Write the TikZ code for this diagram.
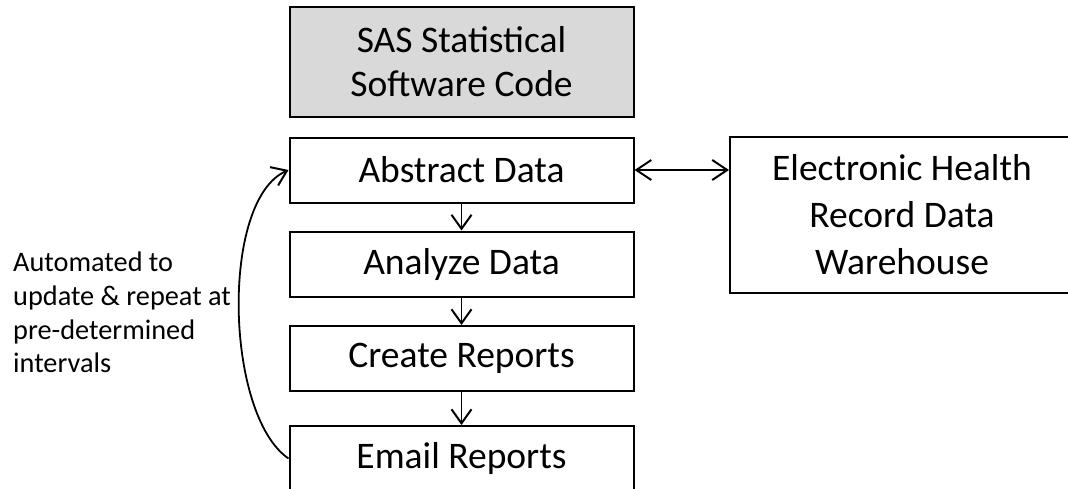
\documentclass[tikz,border=0pt]{standalone}
\usepackage{fontspec}
\setmainfont{Carlito}
\usetikzlibrary{arrows.meta}
\definecolor{boxgray}{HTML}{D9D9D9}
\begin{document}
\begin{tikzpicture}[x=1pt,y=-1pt,
  procbox/.style={draw=black, line width=2pt, minimum width=344pt, minimum height=65pt,
    inner sep=0pt, font=\fontsize{37.5}{44}\selectfont, align=center},
  tip/.style={Straight Barb[length=14pt,width=20pt,line width=2pt]},
  conn/.style={line width=1.8pt, -{Straight Barb[length=14pt,width=20pt,line width=2pt]}},
  dconn/.style={line width=1.8pt, {Straight Barb[length=15pt,width=20pt,line width=2pt]}-{Straight Barb[length=15pt,width=20pt,line width=2pt]}}]
\useasboundingbox (0,0) rectangle (1068,488);
\node[procbox, fill=boxgray, minimum height=110pt] (sas) at (461.5,62) {SAS Statistical\\Software Code};
\node[procbox] (abstract) at (461.5,170) {Abstract Data};
\node[procbox] (analyze) at (461.5,264) {Analyze Data};
\node[procbox] (create) at (461.5,358.5) {Create Reports};
\node[procbox] (email) at (461.5,458.5) {Email Reports};
\node[procbox, minimum height=156pt, font=\fontsize{37.5}{47}\selectfont] (ehr) at (902,215) {Electronic Health\\Record Data\\Warehouse};
\node[anchor=north west, inner sep=0pt, align=left, font=\fontsize{28.3}{33.7}\selectfont] (note) at (13,252) {Automated to\\update \& repeat at\\pre-determined\\intervals};
\draw[conn] (abstract) -- (analyze);
\draw[conn] (analyze) -- (create);
\draw[conn] (create) -- (email);
\draw[dconn] (abstract.east) -- (ehr.west |- abstract.east);
\draw[conn] (email.west) .. controls (225,415) and (220,200) .. (abstract.west);
\end{tikzpicture}
\end{document}
